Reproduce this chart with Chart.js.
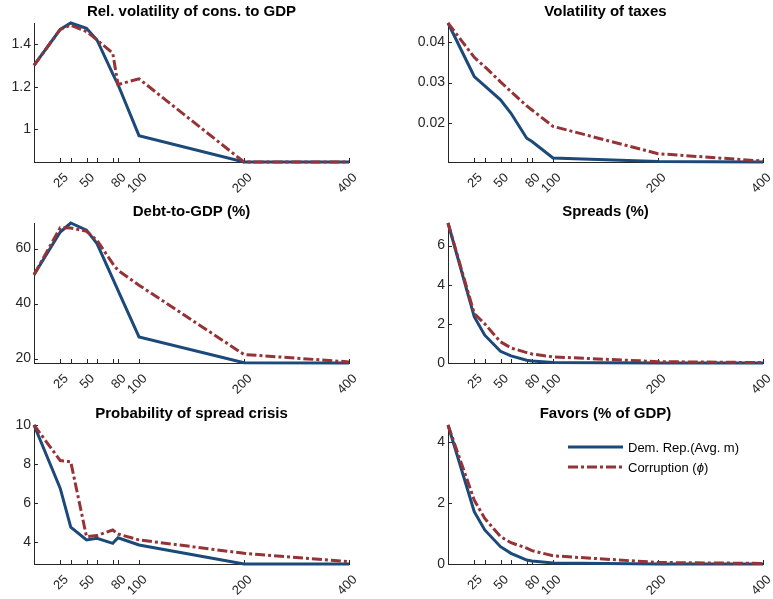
<!DOCTYPE html>
<html>
<head>
<meta charset="utf-8">
<script src="https://cdn.jsdelivr.net/npm/chart.js@4.4.1/dist/chart.umd.min.js"></script>
<style>
  html, body { margin: 0; padding: 0; background: #fff; overflow: hidden; }
  body { width: 773px; height: 599px; position: relative; font-family: 'Liberation Sans', Arial, sans-serif; }
  canvas { position: absolute; }
  .leg { position: absolute; left: 568px; height: 18px; display: flex; align-items: center; font-size: 13px; color: #000; white-space: nowrap; }
  .leg svg { margin-right: 5px; }
</style>
</head>
<body>
<canvas id="c1" width="369" height="208" style="left:0px;top:-1px"></canvas>
<canvas id="c2" width="369" height="208" style="left:414px;top:-1px"></canvas>
<canvas id="c3" width="369" height="209" style="left:0px;top:199px"></canvas>
<canvas id="c4" width="369" height="209" style="left:414px;top:199px"></canvas>
<canvas id="c5" width="369" height="208" style="left:0px;top:401px"></canvas>
<canvas id="c6" width="369" height="208" style="left:414px;top:401px"></canvas>

<div class="leg" style="top:438px">
  <svg width="55" height="6"><line x1="0" y1="3" x2="55" y2="3" stroke="#1B4A7A" stroke-width="3"/></svg>
  <span>Dem. Rep.(Avg. m)</span>
</div>
<div class="leg" style="top:458px">
  <svg width="55" height="6"><line x1="0" y1="3" x2="55" y2="3" stroke="#963336" stroke-width="3" stroke-dasharray="10 3 3 3"/></svg>
  <span>Corruption (<i>&#981;</i>)</span>
</div>

<script>
// Posiciones del eje x (el último punto se etiqueta como 400)
const xValues = [0, 25, 35, 50, 60, 75, 80, 100, 200, 300];
const xTickValues = [25, 35, 50, 60, 75, 80, 100, 200, 300];
const xTickLabels = ['25', '', '50', '', '', '80', '100', '200', '400'];

// Volatilidad relativa del consumo
const consDem  = [1.30, 1.47, 1.50, 1.475, 1.42, 1.26, 1.21, 0.969, 0.845, 0.845];
const consCorr = [1.30, 1.47, 1.49, 1.46, 1.42, 1.358, 1.21, 1.237, 0.845, 0.845];
const consTicks = [1, 1.2, 1.4];

// Volatilidad de impuestos
const taxDem  = [0.0446, 0.0315, 0.0292, 0.0258, 0.0225, 0.0164, 0.0156, 0.01155, 0.0107, 0.01057];
const taxCorr = [0.0446, 0.0362, 0.0339, 0.0302, 0.0278, 0.0243, 0.0233, 0.0193, 0.0126, 0.0108];
const taxTicks = [0.02, 0.03, 0.04];

// Deuda / PIB
const debtDem  = [50.5, 66, 69.3, 66.7, 61.8, 49.1, 44.8, 27.9, 18.5, 18.4];
const debtCorr = [50.5, 67.6, 67.5, 66.3, 63, 54.5, 52.1, 46.7, 21.5, 18.8];
const debtTicks = [20, 40, 60];

// Spreads
const sprDem  = [7.15, 2.36, 1.42, 0.6, 0.36, 0.14, 0.1, 0.03, 0.0, 0.0];
const sprCorr = [7.15, 2.53, 2.0, 1.08, 0.77, 0.53, 0.46, 0.31, 0.07, 0.02];
const sprTicks = [0, 2, 4, 6];

// Probabilidad de crisis
const probDem  = [10, 6.74, 4.74, 4.09, 4.17, 3.91, 4.2, 3.83, 2.85, 2.85];
const probCorr = [10, 8.17, 8.11, 4.26, 4.31, 4.6, 4.39, 4.09, 3.4, 2.97];
const probTicks = [4, 6, 8, 10];

// Favores (% del PIB)
const favDem  = [4.57, 1.72, 1.12, 0.57, 0.35, 0.13, 0.1, 0.03, 0.0, 0.0];
const favCorr = [4.57, 2.1, 1.5, 0.9, 0.7, 0.52, 0.44, 0.27, 0.05, 0.02];
const favTicks = [0, 2, 4];

const BLUE = '#1B4A7A';
const RED = '#963336';
const AXIS = '#262626';
const FONT = "'Liberation Sans', Arial, sans-serif";

// marcas de las escalas hacia dentro, como en MATLAB
const inTicks = {
  id: 'inTicks',
  afterLayout(chart) {
    // centrar el título sobre el área del gráfico, no sobre el canvas
    const t = chart.titleBlock;
    if (t) { t.left = chart.chartArea.left; t.right = chart.chartArea.right; }
  },
  beforeDatasetsDraw(chart) {
    const { ctx, chartArea: a, scales: { x, y } } = chart;
    ctx.save();
    ctx.strokeStyle = AXIS;
    ctx.lineWidth = 1;
    ctx.beginPath();
    x.ticks.forEach(t => {
      const px = Math.round(x.getPixelForValue(t.value)) + 0.5;
      ctx.moveTo(px, a.bottom);
      ctx.lineTo(px, a.bottom - 4);
    });
    y.ticks.forEach(t => {
      const py = Math.round(y.getPixelForValue(t.value)) + 0.5;
      ctx.moveTo(a.left, py);
      ctx.lineTo(a.left + 4, py);
    });
    ctx.stroke();
    ctx.restore();
  }
};

function makeChart(id, title, dem, corr, yTicks) {
  const pts = arr => xValues.map((x, i) => ({ x, y: arr[i] }));
  const all = dem.concat(corr);
  return new Chart(document.getElementById(id), {
    type: 'line',
    data: {
      datasets: [
        { label: 'Dem. Rep.(Avg. m)', data: pts(dem), borderColor: BLUE, borderWidth: 3,
          pointRadius: 0, tension: 0, order: 1, clip: 6 },
        { label: 'Corruption', data: pts(corr), borderColor: RED, borderWidth: 3,
          borderDash: [10, 3, 3, 3], pointRadius: 0, tension: 0, order: 0, clip: 6 }
      ]
    },
    options: {
      responsive: false,
      animation: false,
      layout: { padding: { left: 0, right: 20, top: 0, bottom: 0 } },
      plugins: {
        legend: { display: false },
        tooltip: { enabled: false },
        title: {
          display: true, text: title, color: '#000',
          font: { family: FONT, size: 15, weight: 'bold' },
          padding: { top: 4, bottom: 2 }
        }
      },
      scales: {
        x: {
          type: 'linear', min: 0, max: 300,
          afterBuildTicks: s => { s.ticks = xTickValues.map(v => ({ value: v })); },
          afterFit: s => { s.height = 45; },
          grid: { display: false, drawTicks: false },
          border: { display: true, color: AXIS, width: 1 },
          ticks: {
            autoSkip: false, minRotation: 45, maxRotation: 45, padding: 8, labelOffset: 6,
            color: AXIS, font: { family: FONT, size: 13 },
            callback: (v, i) => xTickLabels[i]
          }
        },
        y: {
          min: Math.min(...all), max: Math.max(...all),
          afterBuildTicks: s => { s.ticks = yTicks.map(v => ({ value: v })); },
          afterFit: s => { s.width = 34; },
          grid: { display: false, drawTicks: false },
          border: { display: true, color: AXIS, width: 1 },
          ticks: {
            padding: 3, color: AXIS, font: { family: FONT, size: 14 },
            callback: v => String(+v.toFixed(4))
          }
        }
      }
    },
    plugins: [inTicks]
  });
}

makeChart('c1', 'Rel. volatility of cons. to GDP', consDem, consCorr, consTicks);
makeChart('c2', 'Volatility of taxes', taxDem, taxCorr, taxTicks);
makeChart('c3', 'Debt-to-GDP (%)', debtDem, debtCorr, debtTicks);
makeChart('c4', 'Spreads (%)', sprDem, sprCorr, sprTicks);
makeChart('c5', 'Probability of spread crisis', probDem, probCorr, probTicks);
makeChart('c6', 'Favors (% of GDP)', favDem, favCorr, favTicks);
</script>
</body>
</html>
